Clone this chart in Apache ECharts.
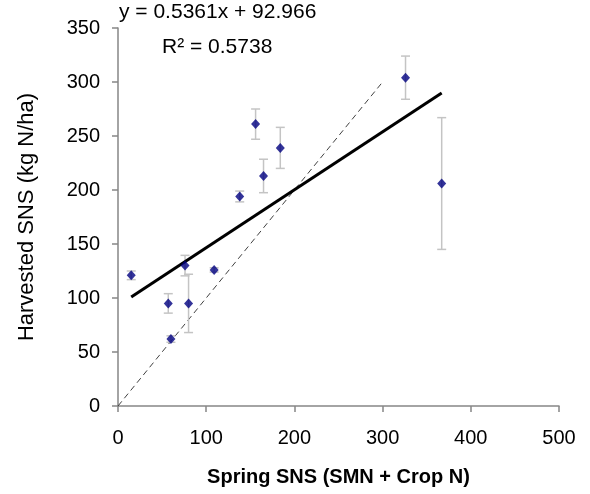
<!DOCTYPE html>
<html>
<head>
<meta charset="utf-8">
<script src="https://cdn.jsdelivr.net/npm/echarts@6/dist/echarts.min.js"></script>
<style>html,body{margin:0;padding:0;background:#fff}#c{width:590px;height:494px}</style>
</head>
<body>
<div id="c"></div>
<script>
// Data
var springSNS   = [15, 57, 60, 76, 80, 109, 138, 156, 165, 184, 326, 367];
var harvestSNS  = [121, 95, 62, 130, 95, 126, 194, 261, 213, 239, 304, 206];
var errorSNS    = [4, 9, 3, 9.5, 27, 2, 5, 14, 15.5, 19, 20, 61];
var slope = 0.5361, intercept = 92.966, r2 = 0.5738;
var oneToOne = [0, 300];
var xTicks = [0, 100, 200, 300, 400, 500];
var yTicks = [0, 50, 100, 150, 200, 250, 300, 350];

var pts = springSNS.map(function (x, i) { return [x, harvestSNS[i], errorSNS[i]]; });
var xMin = Math.min.apply(null, springSNS), xMax = Math.max.apply(null, springSNS);
var trend = [[xMin, slope * xMin + intercept], [xMax, slope * xMax + intercept]];
var diag = oneToOne.map(function (v) { return [v, v]; });

var FONT = 'Liberation Sans, Arial, sans-serif';
var axisCol = '#868686';
var chart = echarts.init(document.getElementById('c'), null, {renderer: 'canvas'});
chart.setOption({
  animation: false,
  backgroundColor: '#ffffff',
  grid: {left: 118, right: 31, top: 28, bottom: 88},
  xAxis: {
    type: 'value', min: xTicks[0], max: xTicks[xTicks.length - 1], interval: 100,
    name: 'Spring SNS (SMN + Crop N)', nameLocation: 'middle', nameGap: 61,
    nameTextStyle: {fontFamily: FONT, fontSize: 20, fontWeight: 'bold', color: '#000'},
    axisLine: {show: true, onZero: false, lineStyle: {color: axisCol, width: 1.5}},
    axisTick: {show: true, inside: false, length: 6, lineStyle: {color: axisCol, width: 1.5}},
    axisLabel: {fontFamily: FONT, fontSize: 20, color: '#000', margin: 22},
    splitLine: {show: false}
  },
  yAxis: {
    type: 'value', min: yTicks[0], max: yTicks[yTicks.length - 1], interval: 50,
    name: 'Harvested SNS (kg N/ha)', nameLocation: 'middle', nameGap: 80,
    nameTextStyle: {fontFamily: FONT, fontSize: 22, color: '#000'},
    axisLine: {show: true, onZero: false, lineStyle: {color: axisCol, width: 1.5}},
    axisTick: {show: true, inside: false, length: 6, lineStyle: {color: axisCol, width: 1.5}},
    axisLabel: {fontFamily: FONT, fontSize: 20, color: '#000', margin: 18},
    splitLine: {show: false}
  },
  graphic: [
    {type: 'text', left: 119, top: 2, z: 100,
     style: {text: 'y = 0.5361x + 92.966', font: '21px ' + FONT, fill: '#000'}},
    {type: 'text', left: 162, top: 37, z: 100,
     style: {text: 'R\u00b2 = ' + r2.toFixed(4), font: '21px ' + FONT, fill: '#000'}}
  ],
  series: [
    {
      type: 'line', data: diag, showSymbol: false, symbol: 'none', z: 2,
      lineStyle: {color: '#404040', width: 1, type: [6, 4]}
    },
    {
      type: 'custom', z: 3,
      data: pts,
      renderItem: function (params, api) {
        var x = api.value(0), y = api.value(1), e = api.value(2);
        var top = api.coord([x, y + e]), bot = api.coord([x, y - e]);
        var w = 4.5;
        var st = {stroke: '#c4c4c4', lineWidth: 1.5};
        return {type: 'group', children: [
          {type: 'line', shape: {x1: top[0], y1: top[1], x2: bot[0], y2: bot[1]}, style: st},
          {type: 'line', shape: {x1: top[0] - w, y1: top[1], x2: top[0] + w, y2: top[1]}, style: st},
          {type: 'line', shape: {x1: bot[0] - w, y1: bot[1], x2: bot[0] + w, y2: bot[1]}, style: st}
        ]};
      }
    },
    {
      type: 'line', data: trend, showSymbol: false, symbol: 'none', z: 4,
      lineStyle: {color: '#000', width: 3}
    },
    {
      type: 'scatter', data: pts, z: 5,
      symbol: 'diamond', symbolSize: [9, 10],
      itemStyle: {color: '#000080'}
    }
  ]
});
</script>
</body>
</html>
